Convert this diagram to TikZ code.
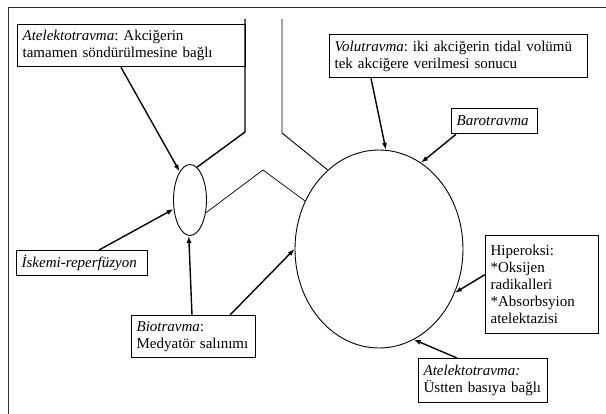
\documentclass[tikz,border=0pt]{standalone}
\usepackage{fontspec}
\setmainfont{Liberation Serif}
\usepackage{xcolor}
\usetikzlibrary{positioning}
\usetikzlibrary{arrows.meta,shapes.geometric}
\frenchspacing

\tikzset{
    kutu/.style={draw, line width=1.3pt, anchor=north west, inner xsep=5pt, inner ysep=0pt, align=left, font=\fontsize{15}{17}\selectfont},
    lob/.style={draw, ellipse, line width=0.9pt, inner sep=0pt},
    ok/.style={-{Latex[length=7pt,width=5pt]}, line width=1.4pt}
}

\begin{document}
\begin{tikzpicture}[x=1pt, y=-1pt]
    \useasboundingbox (0,0) rectangle (606,414);
    \draw[line width=0.9pt, black!80] (606,7) -- (8,7) -- (8,414);

    \node[lob, minimum width=33pt, minimum height=71pt] (sag) at (190,200) {};
    \node[lob, minimum width=168pt, minimum height=198pt] (sol) at (379,249) {};

    \node[kutu, text width=218pt, minimum height=42pt] (atel1) at (17,24) {\textit{Atelektotravma}: Akciğerin\\tamamen söndürülmesine bağlı};
    \node[kutu, text width=248pt, minimum height=43pt] (volu) at (329,34) {\textit{Volutravma}: iki akciğerin tidal volümü\\tek akciğere verilmesi sonucu};
    \node[kutu, text width=76pt, minimum height=25pt] (baro) at (451,108) {\textit{Barotravma}};
    \node[kutu, text width=103pt, minimum height=98pt] (hiper) at (485,235) {Hiperoksi:\\{*}Oksijen\\radikalleri\\{*}Absorbsyion\\atelektazisi};
    \node[kutu, text width=119pt, minimum height=44pt] (atel2) at (418,358) {\textit{Atelektotravma:}\\Üstten basıya bağlı};
    \node[kutu, text width=121pt, minimum height=25pt] (iskemi) at (16,250) {\textit{İskemi-reperfüzyon}};
    \node[kutu, text width=114pt, minimum height=42pt] (bio) at (131,315) {\textit{Biotravma}:\\Medyatör salınımı};

    % trakea ve bronslar
    \coordinate (lust) at (245,19);
    \coordinate (lkir) at (245,132);
    \coordinate (rust) at (282,19);
    \coordinate (rkir) at (282,133);
    \coordinate (tepe) at (263,170);
    \draw[line width=1.4pt] (lust) -- (lkir) -- (sag.78);
    \draw[line width=0.9pt] (rust) -- (rkir) -- (sol.123);
    \draw[line width=0.7pt] (sag.-39) -- (tepe) -- (sol.147);

    % oklar
    \draw[ok] ([xshift=104pt]atel1.south west) -- (sag.110);
    \draw[ok] ([xshift=83pt]iskemi.north west) -- (sag.209);
    \draw[ok] ([xshift=61pt]bio.north west) -- (sag.268);
    \draw[ok] ([xshift=99pt]bio.north west) -- (sol.180);
    \draw[ok] ([xshift=42pt]volu.south west) -- (sol.86.5);
    \draw[ok] ([xshift=5pt]baro.south west) -- (sol.64.8);
    \draw[ok] ([yshift=10pt]hiper.west) -- (sol.-30.7);
    \draw[ok] ([xshift=39pt]atel2.north west) -- (sol.-69.3);
\end{tikzpicture}
\end{document}
